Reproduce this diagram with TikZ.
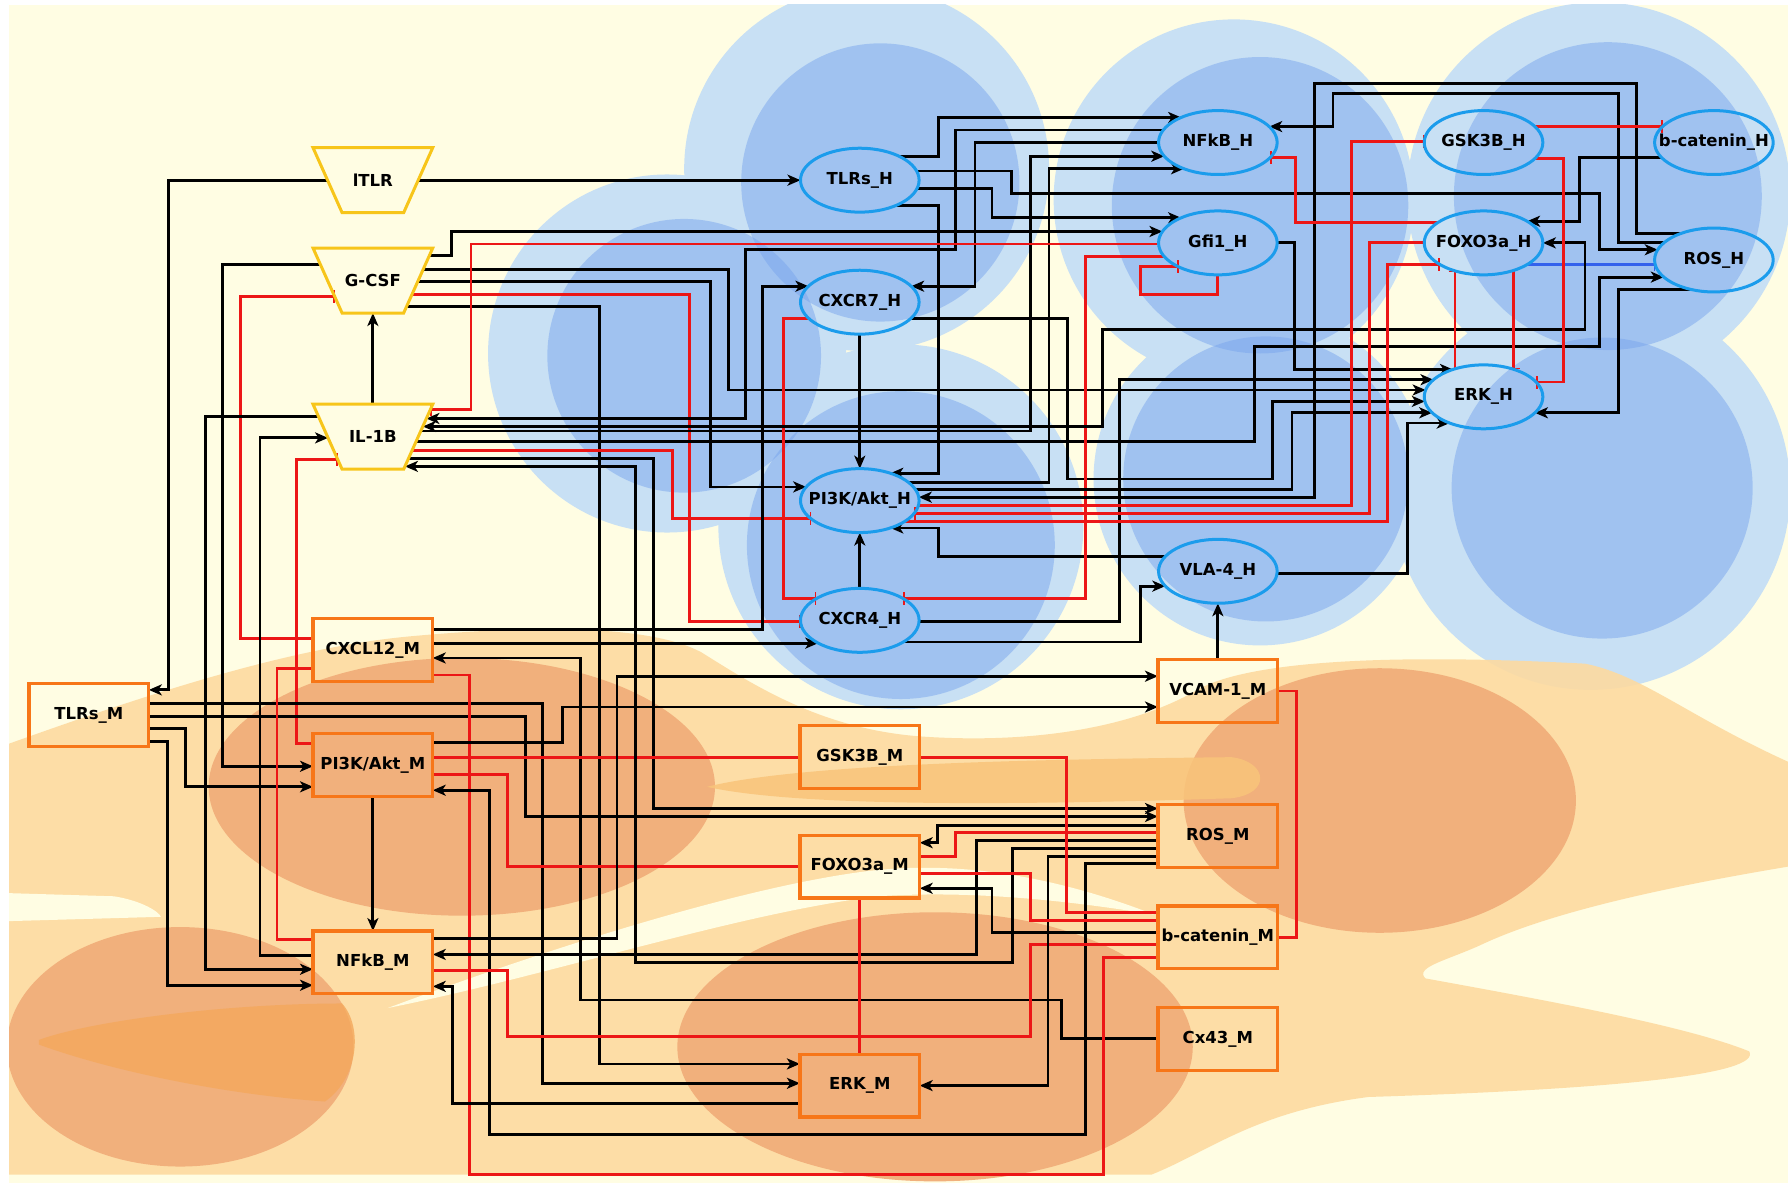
\documentclass[tikz,border=0pt]{standalone}
\usepackage{fontspec}
\setmainfont{DejaVu Sans}
\usetikzlibrary{arrows.meta,calc,shapes.geometric}

\definecolor{paper}{RGB}{255,253,227}
\definecolor{bluelt}{RGB}{200,224,244}
\definecolor{bluein}{RGB}{122,166,238}
\definecolor{hblue}{RGB}{27,156,236}
\definecolor{mor}{RGB}{247,118,24}
\definecolor{tgold}{RGB}{247,197,26}
\definecolor{inhred}{RGB}{236,22,22}
\definecolor{inhblue}{RGB}{52,98,236}
\definecolor{orL}{RGB}{253,218,160}
\definecolor{orM}{RGB}{249,196,122}
\definecolor{orD}{RGB}{241,176,124}
\definecolor{orF}{RGB}{244,168,92}

\pgfdeclarelayer{bg}
\pgfdeclarelayer{edges}
\pgfsetlayers{bg,edges,main}

% half width of an ellipse node at vertical offset #1
\pgfmathdeclarefunction{ellx}{1}{\begingroup\pgfmathparse{52*sqrt(max(0,1-((#1)/28)*((#1)/28)))}\pgfmathsmuggle\pgfmathresult\endgroup}
% half width of an inverted trapezium at vertical offset #1
\pgfmathdeclarefunction{trpx}{1}{\begingroup\pgfmathparse{39.75-0.4474*(#1)}\pgfmathsmuggle\pgfmathresult\endgroup}

\newcommand\lblfont{\bfseries\fontsize{16.5}{19}\selectfont}
\newcommand\lab[1]{\makebox[0pt]{#1}}
\newcommand\trapz[1]{\draw[trap] ($(#1)+(-52.5,-28.5)$) -- ($(#1)+(52.5,-28.5)$) -- ($(#1)+(27,28.5)$) -- ($(#1)+(-27,28.5)$) -- cycle;}

\tikzset{
  act/.style={draw=black, line width=2.8pt, -{Stealth[length=13pt,width=11pt,inset=3.5pt]}},
  act2/.style={draw=black, line width=2.8pt, {Stealth[length=13pt,width=11pt,inset=3.5pt]}-{Stealth[length=13pt,width=11pt,inset=3.5pt]}},
  inh/.style={draw=inhred, line width=2.8pt, -{Bar[width=13pt,line width=1.6pt]}},
  inhb/.style={draw=inhblue, line width=2.8pt, -{Bar[width=13pt,line width=1.6pt]}},
  lnk/.style={draw=inhred, line width=2.8pt},
  hnode/.style={ellipse, draw=hblue, line width=3pt, minimum width=118.6pt, minimum height=63.9pt, inner sep=0pt, font=\lblfont},
  mnode/.style={rectangle, draw=mor, line width=3.3pt, minimum width=119.7pt, minimum height=62.7pt, inner sep=0pt, font=\lblfont},
  tnode/.style={inner sep=0pt, font=\lblfont},
  trap/.style={draw=tgold, line width=3pt, line join=miter},
}

\begin{document}
\begin{tikzpicture}[x=1.1403pt,y=-1.1403pt]
\useasboundingbox (0,0) rectangle (1568,1045);

% ---------- ligand trapezia ----------
\node[tnode] (itlr) at (327,158) {\lab{lTLR}};
\node[tnode] (gcsf) at (327,246) {\lab{G-CSF}};
\node[tnode] (ilb)  at (327,383) {\lab{IL-1B}};
\trapz{itlr}\trapz{gcsf}\trapz{ilb}

% ---------- HSC components ----------
\node[hnode] (tlrsh)  at (754,158)  {\lab{TLRs\_H}};
\node[hnode] (cxcr7h) at (754,265)  {\lab{CXCR7\_H}};
\node[hnode] (pi3kh)  at (754,439)  {\lab{PI3K/Akt\_H}};
\node[hnode] (cxcr4h) at (754,544)  {\lab{CXCR4\_H}};
\node[hnode] (nfkbh)  at (1068,125) {\lab{NFkB\_H}};
\node[hnode] (gfi1h)  at (1068,213) {\lab{Gfi1\_H}};
\node[hnode] (vla4h)  at (1068,501) {\lab{VLA-4\_H}};
\node[hnode] (gsk3bh) at (1301,125) {\lab{GSK3B\_H}};
\node[hnode] (foxoh)  at (1301,213) {\lab{FOXO3a\_H}};
\node[hnode] (erkh)   at (1301,348) {\lab{ERK\_H}};
\node[hnode] (bcath)  at (1503,125) {\lab{b-catenin\_H}};
\node[hnode] (rosh)   at (1503,228) {\lab{ROS\_H}};

% ---------- MSC components ----------
\node[mnode] (tlrsm)   at (78,627)   {\lab{TLRs\_M}};
\node[mnode] (cxcl12m) at (327,570)  {\lab{CXCL12\_M}};
\node[mnode] (pi3km)   at (327,671)  {\lab{PI3K/Akt\_M}};
\node[mnode] (nfkbm)   at (327,844)  {\lab{NFkB\_M}};
\node[mnode] (gsk3bm)  at (754,664)  {\lab{GSK3B\_M}};
\node[mnode] (foxom)   at (754,760)  {\lab{FOXO3a\_M}};
\node[mnode] (erkm)    at (754,952)  {\lab{ERK\_M}};
\node[mnode] (vcamm)   at (1068,606) {\lab{VCAM-1\_M}};
\node[mnode] (rosm)    at (1068,733) {\lab{ROS\_M}};
\node[mnode] (bcatm)   at (1068,822) {\lab{b-catenin\_M}};
\node[mnode] (cx43m)   at (1068,911) {\lab{Cx43\_M}};

% ---------- cells in the background ----------
\begin{pgfonlayer}{bg}
  \fill[white] (0,0) rectangle (1568,1045);
  \fill[paper] (8,4) rectangle (1568,1037);
  \begin{scope}
    \clip (8,4) rectangle (1568,1037);
    \foreach \cx/\cy/\r in {760/148/160, 585/310/157, 790/462/160, 1082/175/158, 1105/420/146, 1402/170/168, 1395/430/175}
      \fill[bluelt] (\cx,\cy) circle[radius=\r];
    \foreach \cx/\cy/\r in {772/160/122, 600/312/120, 790/478/135, 1105/180/130, 1110/420/125, 1410/172/135, 1405/428/132}
      \fill[bluein, fill opacity=0.5] (\cx,\cy) circle[radius=\r];
    % stromal cell bodies
    \fill[orL, fill opacity=0.9] (0,655)
      .. controls (120,612) and (250,568) .. (360,558)
      .. controls (470,548) and (570,548) .. (615,572)
      .. controls (660,600) and (720,640) .. (810,646)
      .. controls (900,652) and (990,640) .. (1050,605)
      .. controls (1090,582) and (1200,572) .. (1390,582)
      .. controls (1440,592) and (1480,628) .. (1568,668)
      -- (1568,760)
      .. controls (1460,778) and (1360,800) .. (1300,828)
      .. controls (1270,842) and (1240,848) .. (1250,858)
      .. controls (1360,878) and (1480,900) .. (1534,922)
      .. controls (1545,942) and (1420,955) .. (1200,962)
      .. controls (1100,975) and (1060,1010) .. (1010,1030)
      -- (0,1030) -- cycle;
    \fill[paper] (0,783) -- (100,786) .. controls (125,790) and (140,800) .. (141,804) -- (0,808) -- cycle;
    \fill[paper] (340,884) .. controls (480,832) and (650,778) .. (760,764)
      .. controls (860,752) and (950,778) .. (1012,802)
      .. controls (950,792) and (860,780) .. (770,786)
      .. controls (650,800) and (480,856) .. (340,884) -- cycle;
    \fill[orD] (405,690) ellipse[x radius=222, y radius=113];
    \fill[orD] (158,918) ellipse[x radius=152, y radius=105];
    \fill[orD] (820,918) ellipse[x radius=226, y radius=118];
    \fill[orD] (1210,702) ellipse[x radius=172, y radius=116];
    \fill[orM, fill opacity=0.85] (620,690) .. controls (700,670) and (900,666) .. (1080,664)
      .. controls (1112,668) and (1115,696) .. (1080,700)
      .. controls (900,706) and (700,708) .. (620,690) -- cycle;
    \fill[orF, fill opacity=0.8] (34,912) .. controls (80,895) and (200,880) .. (300,880)
      .. controls (318,900) and (315,945) .. (285,966)
      .. controls (200,960) and (100,940) .. (34,916) -- cycle;
  \end{scope}
\end{pgfonlayer}

% ---------- interactions ----------
\begin{pgfonlayer}{edges}
  % ligands
  \draw[act] ($(itlr)+({trpx(0)},0)$) -- ($(tlrsh)+({-ellx(0)},0)$);
  \draw[act] ($(itlr)+({-trpx(0)},0)$) -| (148,605) -- ($(tlrsm)+(52.5,-22)$);
  \draw[act] ($(gcsf)+({trpx(-22)},-22)$) -| (396,203) -- ($(gfi1h)+({-ellx(-10)},-10)$);
  \draw[act] ($(gcsf)+({trpx(-10)},-10)$) -| (639,342) -- ($(erkh)+({-ellx(-6)},-6)$);
  \draw[act] ($(gcsf)+({trpx(1)},1)$) -| (623,427) -- ($(pi3kh)+({-ellx(-12)},-12)$);
  \draw[inh] ($(gcsf)+({trpx(12)},12)$) -| (605,545) -- ($(cxcr4h)+({-ellx(1)},1)$);
  \draw[act] ($(gcsf)+({trpx(23)},23)$) -| (526,933) -- ($(erkm)+(-52.5,-19)$);
  \draw[act] ($(gcsf)+({-trpx(-14)},-14)$) -| (195,672) -- ($(pi3km)+(-52.5,1)$);
  \draw[inh] ($(cxcl12m)+(-52.5,-10)$) -| (211,260) -- ($(gcsf)+({-trpx(14)},14)$);
  \draw[act] ($(ilb)+(0,-28.5)$) -- ($(gcsf)+(0,28.5)$);
  \draw[act] ($(ilb)+({-trpx(-18)},-18)$) -| (180,850) -- ($(nfkbm)+(-52.5,6)$);
  \draw[act] ($(nfkbm)+(-52.5,-6)$) -| (228,384) -- ($(ilb)+({-trpx(1)},1)$);
  \draw[inh] ($(pi3km)+(-52.5,-19)$) -| (260,403) -- ($(ilb)+({-trpx(20)},20)$);
  \draw[act] ($(ilb)+({trpx(-5)},-5)$) -| (904,137) -- ($(nfkbh)+({-ellx(12)},12)$);
  \draw[act] ($(ilb)+({trpx(19)},19)$) -| (573,709) -- ($(rosm)+(-52.5,-24)$);
  \draw[inh] ($(ilb)+({trpx(12)},12)$) -| (590,455) -- ($(pi3kh)+({-ellx(16)},16)$);
  \draw[act] ($(ilb)+({trpx(4)},4)$) -| (1100,304) -| (1403,243) -- ($(rosh)+({-ellx(15)},15)$);

  % HSC network
  \draw[act] ($(tlrsh)+({ellx(-21)},-21)$) -| (823,103) -- ($(nfkbh)+({-ellx(-22)},-22)$);
  \draw[act] ($(tlrsh)+({ellx(-8)},-8)$) -| (887,170) -| (1403,219) -- ($(rosh)+({-ellx(-9)},-9)$);
  \draw[act] ($(tlrsh)+({ellx(7)},7)$) -| (870,191) -- ($(gfi1h)+({-ellx(-22)},-22)$);
  \draw[act] ($(tlrsh)+({ellx(22)},22)$) -| (823,415) -- ($(pi3kh)+({ellx(-24)},-24)$);
  \draw[act] ($(nfkbh)+({-ellx(-11)},-11)$) -| (838,219) -| (654,367) -- ($(ilb)+({trpx(-16)},-16)$);
  \draw[act] ($(nfkbh)+({-ellx(0)},0)$) -| (855,251) -- ($(cxcr7h)+({ellx(-14)},-14)$);
  \draw[act] ($(pi3kh)+({ellx(-16)},-16)$) -| (920,148) -- ($(nfkbh)+({-ellx(23)},23)$);
  \draw[inh] ($(gfi1h)+({-ellx(1)},1)$) -| (413,359) -- ($(ilb)+({trpx(-24)},-24)$);
  \draw[act] ($(cxcr7h)+(0,28)$) -- ($(pi3kh)+(0,-28)$);
  \draw[act] ($(cxcr4h)+(0,-28)$) -- ($(pi3kh)+(0,28)$);
  \draw[act] ($(vla4h)+({-ellx(-13)},-13)$) -| (823,463) -- ($(pi3kh)+({ellx(24)},24)$);
  \draw[inh] ($(cxcr7h)+({-ellx(14)},14)$) -| (687,525) -- ($(cxcr4h)+({-ellx(-19)},-19)$);
  \draw[act] ($(cxcr7h)+({ellx(14)},14)$) -| (936,420) -| (1116,352) -- ($(erkh)+({-ellx(4)},4)$);
  \draw[inh] ($(gfi1h)+({-ellx(12)},12)$) -| (952,525) -- ($(cxcr4h)+({ellx(-19)},-19)$);
  \draw[inh] ($(gfi1h)+(0,28)$) -- (1068,258) -| (1000,234) -- ($(gfi1h)+({-ellx(21)},21)$);
  \draw[act] ($(gfi1h)+({ellx(0)},0)$) -| (1135,324) -- ($(erkh)+({-ellx(-24)},-24)$);
  \draw[act] ($(cxcr4h)+({ellx(1)},1)$) -| (982,333) -- ($(erkh)+({-ellx(-15)},-15)$);
  \draw[act] ($(cxcr4h)+({ellx(19)},19)$) -| (1000,514) -- ($(vla4h)+({-ellx(13)},13)$);
  \draw[act] ($(vla4h)+({ellx(2)},2)$) -| (1234,371) -- ($(erkh)+({-ellx(23)},23)$);
  \draw[act] ($(pi3kh)+({ellx(-10)},-10)$) -| (1133,362) -- ($(erkh)+({-ellx(14)},14)$);
  \draw[act] ($(rosh)+({-ellx(-23)},-23)$) -| (1435,73) -| (1153,436) -- ($(pi3kh)+({ellx(-3)},-3)$);
  \draw[act] ($(rosh)+({-ellx(-15)},-15)$) -| (1419,82) -| (1169,111) -- ($(nfkbh)+({ellx(-14)},-14)$);
  \draw[act] ($(rosh)+({-ellx(26)},26)$) -| (1419,362) -- ($(erkh)+({ellx(14)},14)$);
  \draw[inhb] ($(foxoh)+({ellx(19)},19)$) -- ($(rosh)+({-ellx(4)},4)$);
  \draw[act] ($(bcath)+({-ellx(13)},13)$) -| (1385,194) -- ($(foxoh)+({ellx(-19)},-19)$);
  \draw[act2] ($(foxoh)+({ellx(0)},0)$) -| (1390,289) -| (967,374) -- ($(ilb)+({trpx(-9)},-9)$);
  \draw[inh] ($(gsk3bh)+({ellx(-14)},-14)$) -- ($(bcath)+({-ellx(-14)},-14)$);
  \draw[inh] ($(gsk3bh)+({ellx(14)},14)$) -| (1371,335) -- ($(erkh)+({ellx(-13)},-13)$);
  \draw[inh] ($(pi3kh)+({ellx(4)},4)$) -| (1185,124) -- ($(gsk3bh)+({-ellx(-1)},-1)$);
  \draw[inh] ($(foxoh)+({-ellx(0)},0)$) -| (1201,450) -- ($(pi3kh)+({ellx(11)},11)$);
  \draw[inh] ($(pi3kh)+({ellx(18)},18)$) -| (1217,232) -- ($(foxoh)+({-ellx(19)},19)$);
  \draw[inh] ($(foxoh)+({-ellx(-18)},-18)$) -| (1136,138) -- ($(nfkbh)+({ellx(13)},13)$);
  \draw[inh] ($(erkh)+(-25,-24.5)$) -- ($(foxoh)+(-25,24.5)$);
  \draw[inh] ($(foxoh)+(26,24.2)$) -- ($(erkh)+(26,-24.2)$);

  % MSC network
  \draw[act] ($(tlrsm)+(52.5,-10)$) -| (476,950) -- ($(erkm)+(-52.5,-2)$);
  \draw[act] ($(tlrsm)+(52.5,1)$) -| (461,716) -- ($(rosm)+(-52.5,-17)$);
  \draw[act] ($(tlrsm)+(52.5,12)$) -| (163,690) -- ($(pi3km)+(-52.5,19)$);
  \draw[act] ($(tlrsm)+(52.5,23)$) -| (147,864) -- ($(nfkbm)+(-52.5,20)$);
  \draw[inh] ($(cxcl12m)+(-52.5,16)$) -| (243,824) -- ($(nfkbm)+(-52.5,-20)$);
  \draw[act] ($(cxcl12m)+(52.5,-18)$) -| (669,251) -- ($(cxcr7h)+({-ellx(-14)},-14)$);
  \draw[act] ($(cxcl12m)+(52.5,-6)$) -- ($(cxcr4h)+({-ellx(20)},20)$);
  \draw[act] ($(cx43m)+(-52.5,0)$) -| (931,877) -| (509,577) -- ($(cxcl12m)+(52.5,7)$);
  \draw[inh] ($(bcatm)+(-52.5,18)$) -| (968,1030) -| (412,592) -- ($(cxcl12m)+(52.5,22)$);
  \draw[act] ($(pi3km)+(0,27.5)$) -- ($(nfkbm)+(0,-27.5)$);
  \draw[act] ($(pi3km)+(52.5,-20)$) -| (493,620) -- ($(vcamm)+(-52.5,14)$);
  \draw[inh] ($(pi3km)+(52.5,-7)$) -- ($(gsk3bm)+(-52.5,0)$);
  \draw[inh] ($(pi3km)+(52.5,8)$) -| (445,760) -- ($(foxom)+(-52.5,0)$);
  \draw[act] ($(rosm)+(-52.5,24)$) -| (952,995) -| (429,693) -- ($(pi3km)+(52.5,22)$);
  \draw[act] ($(nfkbm)+(52.5,-21)$) -| (541,593) -- ($(vcamm)+(-52.5,-13)$);
  \draw[act] ($(rosm)+(-52.5,4)$) -| (856,837) -- ($(nfkbm)+(52.5,-7)$);
  \draw[inh] ($(nfkbm)+(52.5,7)$) -| (445,909) -| (904,828) -- ($(bcatm)+(-52.5,6)$);
  \draw[act] ($(erkm)+(-52.5,16)$) -| (397,865) -- ($(nfkbm)+(52.5,21)$);
  \draw[act] ($(rosm)+(-52.5,11)$) -| (888,844) -| (557,409) -- ($(ilb)+({trpx(26)},26)$);
  \draw[act] ($(rosm)+(-52.5,-9)$) -| (822,739) -- ($(foxom)+(52.5,-21)$);
  \draw[inh] ($(foxom)+(52.5,-9)$) -| (838,730) -- ($(rosm)+(-52.5,-3)$);
  \draw[act] ($(rosm)+(-52.5,18)$) -| (919,952) -- ($(erkm)+(52.5,0)$);
  \draw[inh] ($(gsk3bm)+(52.5,0)$) -| (935,800) -- ($(bcatm)+(-52.5,-22)$);
  \draw[inh] ($(foxom)+(52.5,6)$) -| (904,807) -- ($(bcatm)+(-52.5,-15)$);
  \draw[act] ($(bcatm)+(-52.5,-4)$) -| (870,779) -- ($(foxom)+(52.5,19)$);
  \draw[lnk] ($(bcatm)+(52.5,0)$) -| (1137,606) -- ($(vcamm)+(52.5,0)$);
  \draw[lnk] ($(foxom)+(0,27.5)$) -- ($(erkm)+(0,-27.5)$);
  \draw[act] ($(vcamm)+(0,-27.5)$) -- ($(vla4h)+(0,28)$);
\end{pgfonlayer}
\end{tikzpicture}
\end{document}
